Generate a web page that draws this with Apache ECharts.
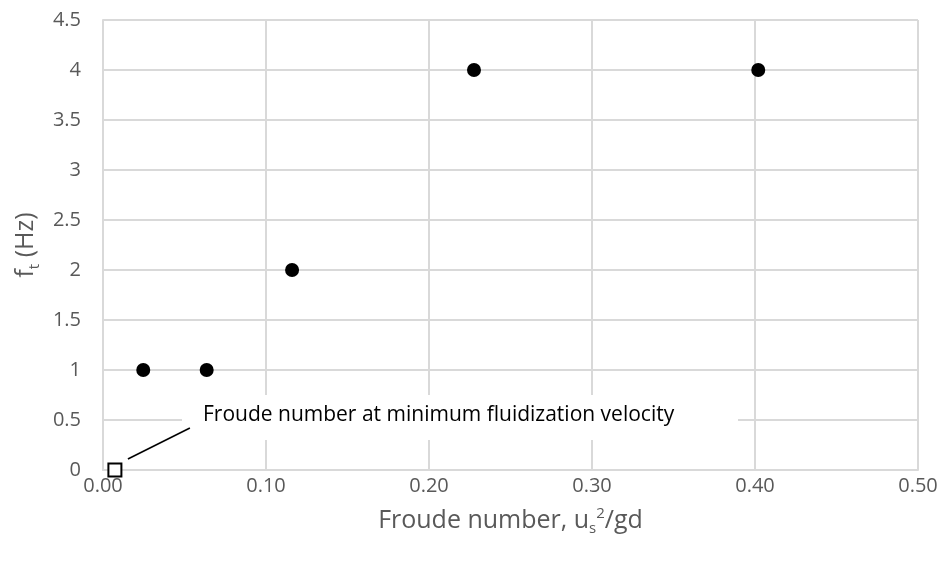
<!DOCTYPE html>
<html>
<head>
<meta charset="utf-8">
<script src="https://cdn.jsdelivr.net/npm/echarts@6/dist/echarts.min.js"></script>
<style>html,body{margin:0;padding:0;background:#fff;}#c{width:943px;height:565px;}</style>
</head>
<body>
<div id="c"></div>
<script>
var froudeX = [0.0247, 0.0636, 0.116, 0.2276, 0.402];
var freqY = [1, 1, 2, 4, 4];
var mfX = [0.0073];
var mfY = [0];
var annotationText = 'Froude number at minimum fluidization velocity';

var chart = echarts.init(document.getElementById('c'));
var FONT = '"Open Sans", "Noto Sans", sans-serif';
chart.setOption({
  animation: false,
  backgroundColor: '#fff',
  grid: {left: 103, right: 25, top: 20, bottom: 95},
  xAxis: {
    type: 'value', min: 0, max: 0.5, interval: 0.1,
    axisLine: {show: true, lineStyle: {color: '#d9d9d9', width: 2}},
    axisTick: {show: false},
    splitLine: {show: true, lineStyle: {color: '#d9d9d9', width: 2}},
    axisLabel: {color: '#595959', fontSize: 20, fontFamily: FONT, margin: 6,
      formatter: function (v) { return v.toFixed(2); }},
    name: '{m|Froude number, u}{sub|s}{sup|2}{m|/gd}',
    nameLocation: 'middle', nameGap: 36,
    nameTextStyle: {
      rich: {
        m: {fontSize: 25, color: '#595959', fontFamily: FONT, lineHeight: 30, verticalAlign: 'middle'},
        sub: {fontSize: 15, color: '#595959', fontFamily: FONT, lineHeight: 30, verticalAlign: 'bottom'},
        sup: {fontSize: 15, color: '#595959', fontFamily: FONT, lineHeight: 30, verticalAlign: 'top'}
      }
    }
  },
  yAxis: {
    type: 'value', min: 0, max: 4.5, interval: 0.5,
    axisLine: {show: true, lineStyle: {color: '#d9d9d9', width: 2}},
    axisTick: {show: false},
    splitLine: {show: true, lineStyle: {color: '#d9d9d9', width: 2}},
    axisLabel: {color: '#595959', fontSize: 20, fontFamily: FONT, margin: 22},
    name: '{m|f}{sub|t}{m| (Hz)}',
    nameLocation: 'middle', nameGap: 52, nameRotate: 90,
    nameTextStyle: {
      rich: {
        m: {fontSize: 25, color: '#595959', fontFamily: FONT, lineHeight: 32, verticalAlign: 'middle'},
        sub: {fontSize: 15, color: '#595959', fontFamily: FONT, lineHeight: 32, verticalAlign: 'bottom'}
      }
    }
  },
  series: [
    {
      type: 'scatter', symbol: 'circle', symbolSize: 14,
      itemStyle: {color: '#000', opacity: 1},
      data: froudeX.map(function (x, i) { return [x, freqY[i]]; }),
      z: 5
    },
    {
      type: 'scatter', symbol: 'rect', symbolSize: 13,
      itemStyle: {color: '#fff', borderColor: '#000', borderWidth: 2, opacity: 1},
      data: mfX.map(function (x, i) { return [x, mfY[i]]; }),
      z: 6
    }
  ]
});

var p = chart.convertToPixel({gridIndex: 0}, [mfX[0], mfY[0]]);
chart.setOption({
  graphic: [
    {type: 'rect', shape: {x: 182, y: 395, width: 556, height: 45}, style: {fill: '#fff'}, z: 3},
    {type: 'line', shape: {x1: p[0] + 13, y1: p[1] - 11, x2: p[0] + 75, y2: p[1] - 42},
      style: {stroke: '#000', lineWidth: 1.5}, z: 4},
    {type: 'text', left: 203, top: 405, z: 4,
      style: {text: annotationText, fill: '#000', fontSize: 21, fontFamily: FONT}}
  ]
});
</script>
</body>
</html>
